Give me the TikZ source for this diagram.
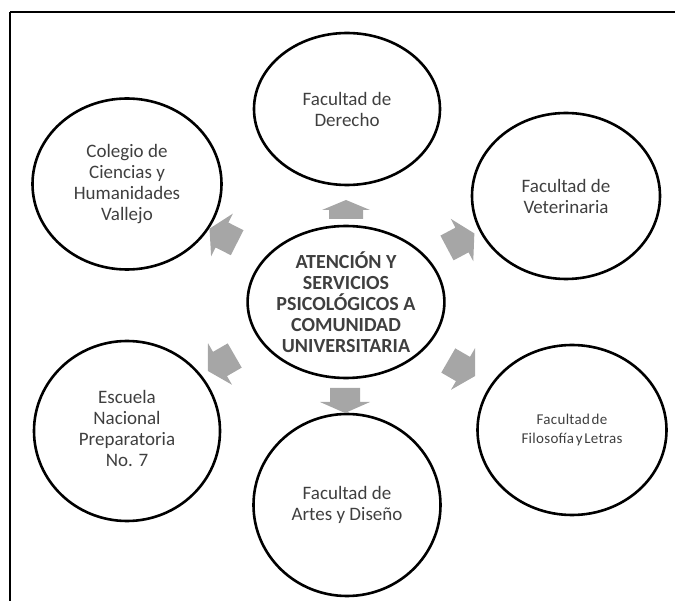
\documentclass[tikz,border=0pt]{standalone}
\usepackage{fontspec}
\setmainfont{Carlito}
\newfontfamily\spacedfont[LetterSpace=2,WordSpace=0.45]{Carlito}
\usetikzlibrary{shapes.geometric}
\definecolor{txtgray}{HTML}{3F3F3F}
\definecolor{arrowgray}{HTML}{A6A6A6}
\tikzset{
  unit/.style={ellipse, draw=black, line width=2.6pt, inner sep=0pt, align=center,
    text=txtgray, font=\fontsize{19}{21}\selectfont},
  hub/.style={unit, font=\bfseries\fontsize{20}{21}\selectfont},
  pics/barrow/.style n args={4}{code={
    \fill[arrowgray] (-#1,-#2) -- (0,-#2) -- (0,-#3) -- (#4,0) -- (0,#3) -- (0,#2) -- (-#1,#2) -- cycle;}}
}
\begin{document}
\begin{tikzpicture}[x=1pt,y=-1pt]
\useasboundingbox (0,0) rectangle (675,601);
% frame
\draw[line width=1.3pt] (10,12) coordinate (fa) -- (675,12) coordinate (fb);
\draw[line width=1.3pt] (fa) -- (10,601) coordinate (fc);
% ellipses
\node[hub, minimum width=196pt, minimum height=152pt] (c) at (346,302)
  {ATENCIÓN Y\\SERVICIOS\\PSICOLÓGICOS A\\COMUNIDAD\\UNIVERSITARIA};
\node[unit, minimum width=186pt, minimum height=152pt] (der) at (347,109)
  {Facultad de\\Derecho};
\node[unit, minimum width=188pt, minimum height=166pt] (vet) at (566,196)
  {Facultad de\\Veterinaria};
\node[unit, minimum width=189pt, minimum height=171pt] (col) at (127,184)
  {Colegio de\\Ciencias y\\Humanidades\\Vallejo};
\node[unit, minimum width=186pt, minimum height=180pt] (enp) at (127,431)
  {\raisebox{5pt}{\begin{tabular}{@{}c@{}}Escuela\\Nacional\\Preparatoria\\No. 7\end{tabular}}};
\node[unit, minimum width=189pt, minimum height=170pt, font=\spacedfont\fontsize{15}{19}\selectfont] (fil) at (572,430)
  {Facultad de\\Filosofía y Letras};
\node[unit, minimum width=187pt, minimum height=182pt] (art) at (347,505)
  {Facultad de\\Artes y Diseño};
% block arrows
\pic[rotate=90] at (346,210) {barrow={9}{17}{24}{10}};
\pic[rotate=-90] at (345,402) {barrow={14}{15}{25}{11}};
\pic[rotate=28] at (462,240) {barrow={17}{14}{24}{14}};
\pic[rotate=-30] at (463,369) {barrow={17}{14}{24}{14}};
\pic[rotate=-150] at (220,364) {barrow={17}{14}{24}{14}};
\pic[rotate=153] at (222,235) {barrow={17}{14}{24}{14}};
\end{tikzpicture}
\end{document}
